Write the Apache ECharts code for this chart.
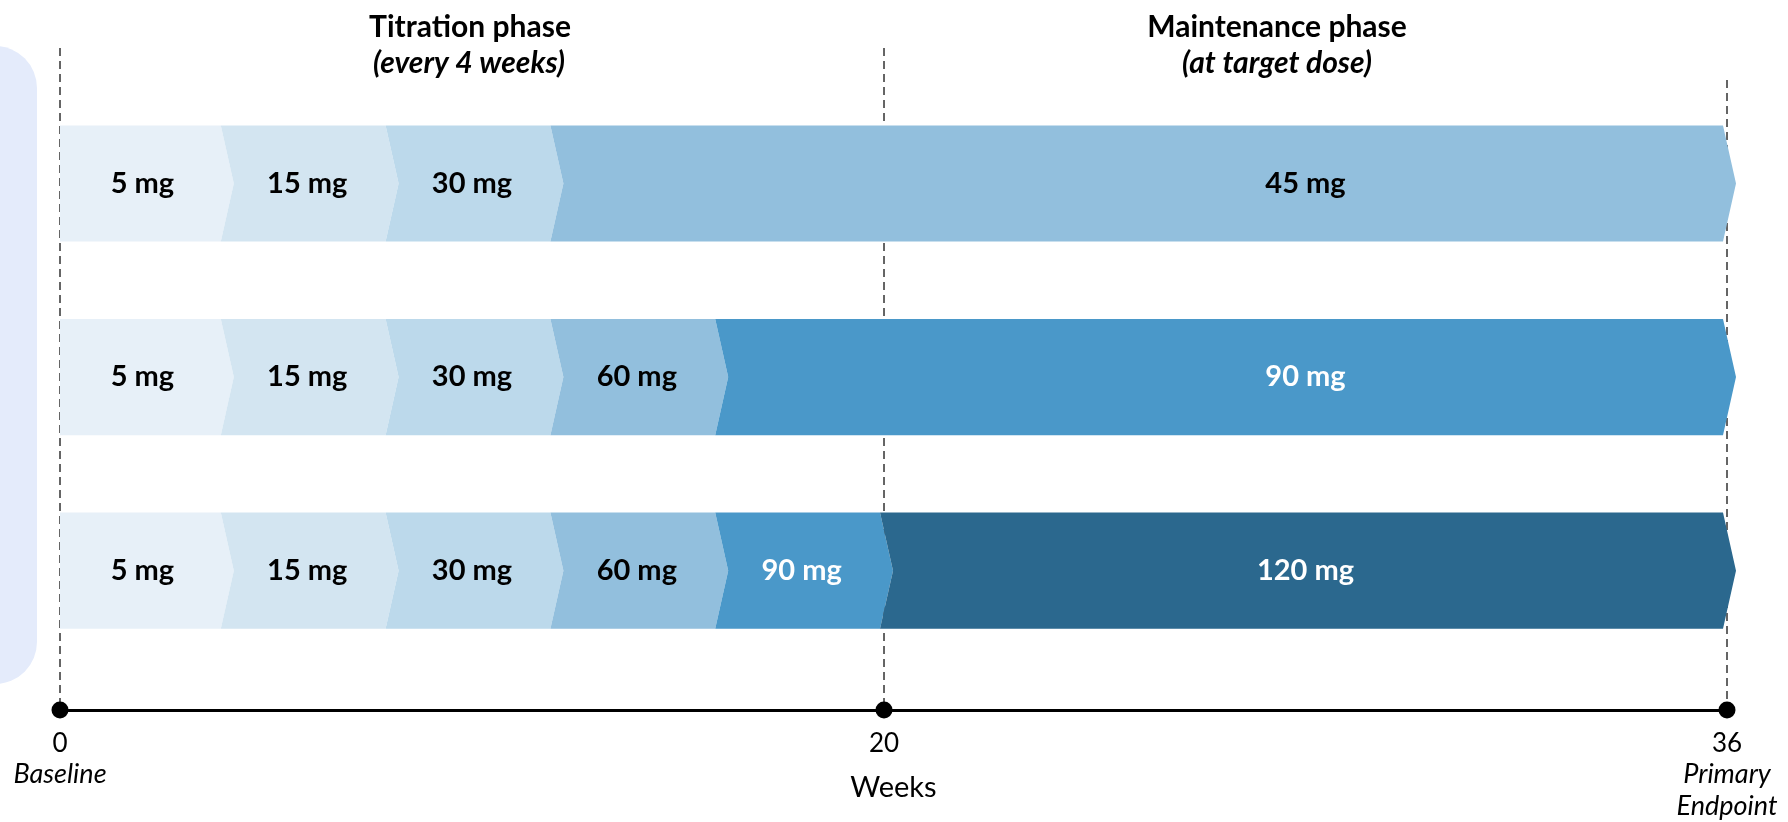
<!DOCTYPE html>
<html>
<head>
<meta charset="utf-8">
<title>Dose titration schedule</title>
<script src="https://cdn.jsdelivr.net/npm/echarts@6/dist/echarts.min.js"></script>
<style>
  html, body { margin: 0; padding: 0; background: #fff; }
  #chart { width: 1788px; height: 822px; }
</style>
</head>
<body>
<div id="chart"></div>
<script>
// ---- schedule data -------------------------------------------------------
// Dose steps (mg) for each arm, top to bottom.
const armDoses = [
  [5, 15, 30, 45],
  [5, 15, 30, 60, 90],
  [5, 15, 30, 60, 90, 120]
];
// Week at which each titration step begins (titration every 4 weeks).
const stepStartWeeks = [0, 4, 8, 12, 16, 20];
// End of the study treatment period (weeks).
const endWeek = 36;
// End of the titration window (weeks).
const titrationEndWeek = 20;
// Milestones on the time axis.
const milestoneWeeks = [0, 20, 36];
const milestoneNotes = ['Baseline', '', 'Primary\nEndpoint'];
// Phase headings.
const phaseTitles = ['Titration phase', 'Maintenance phase'];
const phaseSubtitles = ['(every 4 weeks)', '(at target dose)'];

// ---- drawing settings ----------------------------------------------------
const FONT = 'Lato, "Open Sans", sans-serif';
// The maintenance phase is drawn wider than the titration phase.
const MAINT_STRETCH = 1.2788;
const doseColors = {
  5: '#e7f0f8', 15: '#d3e5f1', 30: '#bcd9eb',
  45: '#92bfdd', 60: '#92bfdd', 90: '#4a98c9', 120: '#2b688e'
};
const whiteTextDoses = [90, 120];
const Y_MIN = -0.7, Y_MAX = 2.72;

function toAxis(w) {
  return w <= titrationEndWeek ? w : titrationEndWeek + (w - titrationEndWeek) * MAINT_STRETCH;
}
function fromAxis(v) {
  return v <= titrationEndWeek ? v : titrationEndWeek + (v - titrationEndWeek) / MAINT_STRETCH;
}
const axisMax = toAxis(endWeek);

// Flatten the arms into chevron segments.
const segments = [];
armDoses.forEach((doses, row) => {
  doses.forEach((dose, i) => {
    const start = stepStartWeeks[i];
    const isTarget = i === doses.length - 1;
    const end = isTarget ? endWeek : stepStartWeeks[i + 1];
    segments.push({ row, dose, start, end, first: i === 0, target: isTarget });
  });
});

const chart = echarts.init(document.getElementById('chart'), null, { renderer: 'canvas' });

function renderSegment(params, api) {
  const s = segments[params.dataIndex];
  const ca = api.coord([toAxis(s.start), s.row]);
  const cb = api.coord([toAxis(s.end), s.row]);
  const h = api.size([0, 0.6])[1];
  const yTop = ca[1] - h / 2, yBot = ca[1] + h / 2, yMid = ca[1];
  const back = 4, tip = 9;
  const xa = ca[0], xb = cb[0];
  const pts = [];
  if (s.first) {
    pts.push([xa, yTop], [xb - back, yTop], [xb + tip, yMid], [xb - back, yBot], [xa, yBot]);
  } else {
    pts.push([xa - back, yTop], [xb - back, yTop], [xb + tip, yMid], [xb - back, yBot],
             [xa - back, yBot], [xa + tip, yMid]);
  }
  // Target doses are labelled in the middle of the maintenance phase.
  const la = s.target ? api.coord([toAxis(Math.max(s.start, titrationEndWeek)), s.row])[0] : xa;
  const lb = s.target ? cb[0] : xb;
  const textColor = whiteTextDoses.includes(s.dose) ? '#ffffff' : '#000000';
  return {
    type: 'group',
    children: [
      { type: 'polygon', shape: { points: pts }, style: { fill: doseColors[s.dose] } },
      {
        type: 'text',
        x: (la + lb) / 2, y: yMid,
        style: {
          text: s.dose + ' mg', fill: textColor, font: 'bold 29px ' + FONT,
          align: 'center', verticalAlign: 'middle'
        }
      }
    ]
  };
}

// Dashed milestone guides, drawn from the top of the plot down to the axis.
const guideTopOffset = [0, 0, 32];
function renderGuide(params, api) {
  const w = milestoneWeeks[params.dataIndex];
  const top = api.coord([toAxis(w), Y_MIN]);
  const bot = api.coord([toAxis(w), Y_MAX]);
  return {
    type: 'line',
    shape: { x1: top[0], y1: top[1] + guideTopOffset[params.dataIndex], x2: bot[0], y2: bot[1] },
    style: { stroke: '#333', lineWidth: 1.5, lineDash: [8, 5] }
  };
}

function headerText(text, x, y, italic) {
  return {
    type: 'text', x: x, y: y,
    style: {
      text: text, font: (italic ? 'italic ' : '') + 'bold 30px ' + FONT,
      fill: '#000', align: 'center', verticalAlign: 'middle'
    }
  };
}

const option = {
  animation: false,
  backgroundColor: '#ffffff',
  grid: { left: 60, right: 61, top: 48, bottom: 112, containLabel: false, outerBoundsMode: 'none' },
  xAxis: {
    type: 'value', min: 0, max: axisMax,
    name: 'Weeks', nameLocation: 'middle', nameGap: 63, nameMoveOverlap: false,
    nameTextStyle: { fontFamily: FONT, fontSize: 29, color: '#000' },
    axisLine: { show: true, onZero: false, lineStyle: { color: '#000', width: 3 } },
    axisTick: { show: false },
    splitLine: { show: false },
    axisLabel: {
      customValues: milestoneWeeks.map(toAxis),
      margin: 20,
      hideOverlap: false,
      formatter: function (v) {
        const w = Math.round(fromAxis(v));
        const note = milestoneNotes[milestoneWeeks.indexOf(w)];
        return '{n|' + w + '}' + (note ? '\n' + note.split('\n').map(t => '{i|' + t + '}').join('\n') : '');
      },
      rich: {
        n: { fontFamily: FONT, fontSize: 26, color: '#000', lineHeight: 28 },
        i: { fontFamily: FONT, fontSize: 27, fontStyle: 'italic', color: '#000', lineHeight: 32 }
      }
    }
  },
  yAxis: {
    type: 'value', min: Y_MIN, max: Y_MAX, inverse: true, show: false
  },
  graphic: [
    {
      type: 'rect', z: -1,
      shape: { x: -60, y: 46, width: 97, height: 638, r: 42 },
      style: { fill: '#e4ebfb' }
    },
    headerText(phaseTitles[0], 470, 27, false),
    headerText(phaseSubtitles[0], 469, 63, true),
    headerText(phaseTitles[1], 1277, 27, false),
    headerText(phaseSubtitles[1], 1277, 63, true)
  ],
  series: [
    {
      type: 'custom', name: 'guides', clip: false, z: 1,
      renderItem: renderGuide,
      data: milestoneWeeks.map(w => [toAxis(w)])
    },
    {
      type: 'custom', name: 'doses', clip: false, z: 2,
      renderItem: renderSegment,
      data: segments.map(s => [toAxis(s.start), toAxis(s.end), s.row])
    },
    {
      type: 'scatter', name: 'milestones', clip: false, z: 3,
      symbol: 'circle', symbolSize: 17,
      itemStyle: { color: '#000', opacity: 1 },
      data: milestoneWeeks.map(w => [toAxis(w), Y_MAX])
    }
  ]
};

chart.setOption(option);
</script>
</body>
</html>
